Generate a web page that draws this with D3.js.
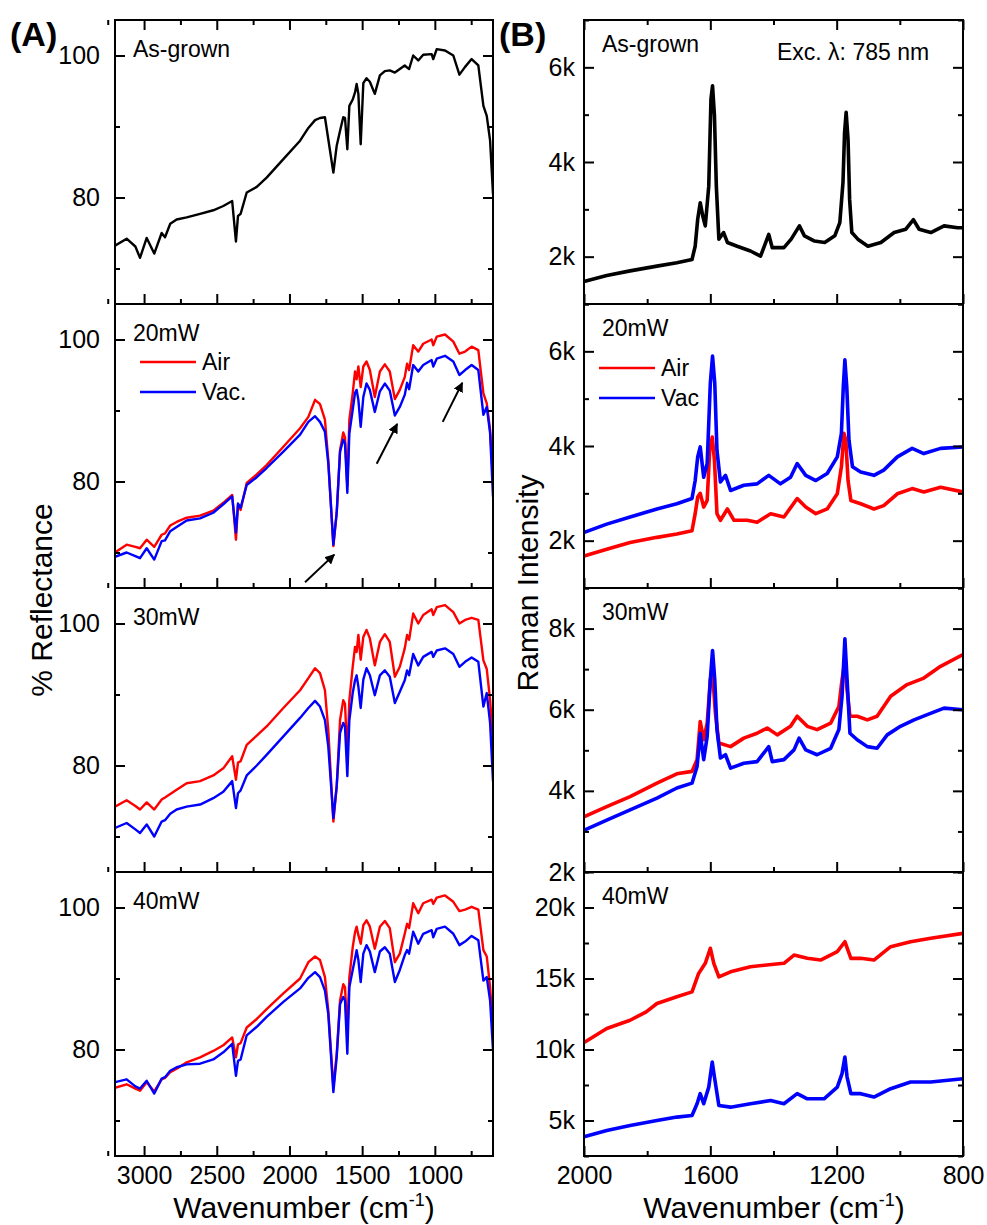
<!DOCTYPE html>
<html lang="en">
<head>
<meta charset="utf-8">
<title>Reflectance and Raman spectra</title>
<script src="https://cdn.jsdelivr.net/npm/d3@7"></script>
<style>
  body { margin: 0; background: #fff; }
  svg text { font-family: "Liberation Sans", Arial, sans-serif; fill: #000; }
  .frame { fill: none; stroke: #000; stroke-width: 2px; }
  .tick line { stroke: #000; stroke-width: 2px; }
  .domain { display: none; }
  .spec { fill: none; stroke-linejoin: round; stroke-linecap: round; }
</style>
</head>
<body>
<div id="chart"></div>
<script>
// ---- (A) reflectance, shared wavenumber grid (cm-1)
var wnA = [3200, 3120, 3060, 3028, 2982, 2930, 2879, 2856, 2820, 2776, 2707, 2615, 2524, 2455, 2394,
  2368, 2354, 2336, 2294, 2225, 2157, 2042, 1927, 1870, 1824, 1790, 1756, 1733, 1698, 1675,
  1652, 1630, 1618, 1602, 1588, 1565, 1549, 1538, 1526, 1510, 1492, 1470, 1447, 1413, 1378,
  1344, 1310, 1275, 1241, 1207, 1191, 1177, 1149, 1114, 1080, 1022, 1011, 987, 930, 873,
  831, 792, 747, 701, 666, 643, 620, 600];

var asGrown = [73.2, 74.2, 73.1, 71.5, 74.3, 72.1, 75.0, 74.4, 76.3, 76.9, 77.2, 77.7, 78.2, 78.8, 79.5,
  73.8, 77.4, 77.7, 80.7, 81.5, 82.8, 85.4, 88.0, 89.8, 90.9, 91.2, 91.3, 88.2, 83.5, 87.3,
  89.4, 91.3, 91.2, 86.8, 92.9, 93.8, 94.8, 96.0, 94.6, 87.5, 96.1, 96.8, 96.3, 94.6, 97.2,
  97.8, 97.9, 97.6, 98.1, 98.6, 98.3, 98.1, 100.0, 99.3, 100.1, 100.2, 99.5, 100.9, 100.7, 100.0,
  97.3, 98.4, 99.5, 98.6, 92.9, 91.5, 88.0, 80.5];

var air20 = [70.0, 71.1, 70.8, 70.6, 71.8, 70.8, 72.5, 72.7, 73.8, 74.3, 74.9, 75.2, 75.9, 77.0, 78.1,
  71.8, 76.7, 76.0, 79.8, 81.0, 82.3, 84.9, 87.5, 89.1, 91.5, 90.9, 88.7, 83.0, 70.9, 75.6,
  84.4, 86.9, 86.2, 79.3, 88.7, 92.4, 95.5, 94.4, 96.2, 93.3, 96.2, 96.9, 95.7, 91.9, 95.5,
  96.5, 95.5, 91.6, 92.9, 94.7, 96.6, 95.7, 99.2, 98.3, 99.4, 100.0, 99.2, 100.4, 100.7, 99.7,
  98.0, 98.3, 99.0, 98.5, 92.4, 91.0, 87.3, 80.2];
var vac20 = [69.4, 70.0, 69.5, 69.2, 70.6, 69.0, 71.6, 71.7, 73.0, 73.6, 74.5, 74.8, 75.6, 76.8, 77.9,
  72.8, 76.9, 76.3, 79.5, 80.6, 81.9, 84.2, 86.6, 88.4, 89.2, 88.4, 87.0, 82.6, 71.1, 75.6,
  84.2, 85.9, 85.4, 78.4, 86.8, 90.1, 92.5, 92.9, 91.5, 87.7, 91.9, 93.8, 92.9, 89.8, 92.7,
  93.8, 92.8, 89.3, 90.5, 92.2, 93.9, 93.0, 96.4, 95.5, 96.4, 97.1, 96.2, 97.3, 97.7, 96.9,
  95.0, 95.7, 96.4, 95.7, 89.4, 90.5, 86.8, 77.9];

var air30 = [74.2, 75.1, 74.3, 73.8, 74.8, 73.8, 75.2, 75.5, 76.0, 76.6, 77.5, 77.8, 78.6, 79.6, 81.3,
  78.0, 80.4, 80.6, 82.9, 84.2, 85.5, 88.1, 90.6, 92.3, 93.7, 93.0, 90.6, 85.0, 72.1, 77.1,
  86.4, 89.2, 88.7, 81.3, 89.2, 93.9, 96.7, 96.0, 98.4, 94.9, 98.1, 99.1, 97.9, 94.1, 97.4,
  98.5, 97.4, 92.5, 93.9, 96.5, 98.4, 97.7, 101.4, 100.0, 101.2, 102.0, 101.2, 102.3, 102.6, 101.6,
  100.0, 100.5, 100.8, 100.5, 94.8, 93.6, 89.2, 83.6];
var vac30 = [71.2, 71.9, 71.0, 70.5, 71.7, 70.0, 72.1, 72.3, 73.2, 73.8, 74.2, 74.5, 75.4, 76.3, 77.8,
  74.0, 76.1, 76.5, 78.6, 80.0, 81.5, 84.1, 86.7, 88.1, 89.1, 88.3, 86.4, 82.7, 72.6, 77.1,
  84.6, 86.0, 85.5, 78.5, 86.4, 90.2, 92.0, 92.7, 91.1, 88.1, 92.1, 93.7, 92.7, 89.9, 92.7,
  93.4, 92.5, 88.8, 90.4, 92.0, 93.4, 92.7, 95.7, 94.1, 95.3, 96.0, 95.3, 96.2, 96.5, 95.7,
  93.9, 94.6, 95.2, 94.6, 88.3, 90.2, 86.0, 77.8];

var air40 = [74.6, 75.1, 74.5, 74.2, 75.4, 74.1, 75.8, 76.0, 76.8, 77.3, 78.2, 78.9, 79.8, 80.6, 81.7,
  78.9, 80.7, 80.9, 83.1, 84.3, 85.7, 87.9, 90.0, 92.3, 93.1, 92.6, 90.2, 85.5, 74.7, 79.4,
  86.9, 89.2, 88.8, 82.2, 90.2, 94.4, 96.5, 97.3, 96.1, 94.9, 97.5, 98.2, 97.3, 94.2, 97.3,
  98.1, 97.1, 92.3, 93.5, 96.3, 97.7, 97.1, 100.6, 99.2, 100.6, 101.1, 100.5, 101.4, 101.7, 100.8,
  99.5, 99.7, 100.1, 99.7, 94.0, 93.1, 88.8, 82.7];
var vac40 = [75.4, 75.8, 74.8, 74.5, 75.6, 73.8, 75.9, 76.1, 77.0, 77.5, 77.9, 78.0, 78.6, 79.6, 80.8,
  76.3, 78.4, 78.6, 82.0, 83.2, 84.6, 86.7, 88.6, 90.1, 90.9, 90.2, 88.3, 85.0, 74.0, 79.0,
  86.4, 87.4, 86.9, 79.4, 88.8, 91.2, 92.8, 94.0, 92.6, 89.5, 93.5, 94.7, 93.8, 90.9, 93.8,
  94.4, 93.5, 89.5, 91.2, 93.3, 94.0, 93.5, 96.6, 94.9, 96.3, 96.8, 95.8, 97.0, 97.3, 96.3,
  94.7, 95.2, 96.0, 95.4, 89.7, 90.2, 86.9, 79.9];

// arrows in the 20mW panel: [wavenumber, %] tail -> head
var arrows20 = [
  {from: [1893, 65.8], to: [1692, 69.7]},
  {from: [1400, 82.5], to: [1259, 88.1]},
  {from: [946, 88.4], to: [811, 93.9]}
];

// ---- (B) Raman, 785 nm excitation
var wnB1 = [1997, 1928, 1854, 1769, 1706, 1658, 1648, 1640, 1632, 1624, 1616, 1605, 1598, 1593, 1587,
  1581, 1573, 1558, 1546, 1515, 1473, 1441, 1415, 1404, 1367, 1344, 1318, 1302, 1270, 1238,
  1206, 1190, 1180, 1175, 1170, 1164, 1159, 1152, 1133, 1101, 1060, 1018, 981, 957, 939,
  902, 860, 817, 800];
var ramanAsGrown = [1480, 1600, 1700, 1800, 1870, 1940, 2220, 2790, 3140, 2860, 2650, 3490, 5330, 5610, 4980,
  3490, 2370, 2510, 2300, 2220, 2120, 2010, 2470, 2190, 2190, 2370, 2650, 2440, 2330, 2300,
  2440, 2720, 3570, 4620, 5050, 4480, 3210, 2510, 2370, 2220, 2300, 2510, 2580, 2780, 2580,
  2510, 2650, 2610, 2610];

var wnB2air = [1997, 1928, 1854, 1769, 1706, 1658, 1648, 1640, 1632, 1621, 1610, 1602, 1594, 1587, 1579,
  1568, 1546, 1525, 1483, 1452, 1409, 1367, 1325, 1298, 1266, 1230, 1198, 1185, 1177, 1171,
  1164, 1155, 1124, 1082, 1051, 1008, 961, 924, 871, 800];
var ramanAir20 = [1680, 1820, 1960, 2070, 2140, 2210, 2570, 2920, 3000, 2710, 2850, 3910, 4190, 3700, 2570,
  2430, 2670, 2430, 2430, 2390, 2570, 2500, 2890, 2710, 2570, 2670, 2990, 3560, 4270, 4120,
  3270, 2850, 2780, 2670, 2740, 2990, 3100, 3030, 3130, 3030];
var wnB2vac = [1997, 1928, 1854, 1769, 1706, 1658, 1648, 1640, 1632, 1621, 1610, 1600, 1593, 1586, 1579,
  1568, 1552, 1536, 1494, 1452, 1415, 1378, 1346, 1325, 1298, 1266, 1230, 1198, 1185, 1179,
  1174, 1168, 1161, 1150, 1124, 1082, 1051, 1008, 961, 924, 871, 800];
var ramanVac20 = [2180, 2350, 2500, 2670, 2780, 2890, 3270, 3770, 3980, 3340, 3630, 5330, 5900, 5330, 3910,
  3240, 3380, 3060, 3170, 3200, 3380, 3200, 3340, 3630, 3380, 3270, 3420, 3770, 4270, 5250,
  5820, 5250, 4120, 3560, 3450, 3380, 3490, 3770, 3950, 3840, 3950, 3980];

var wnB3air = [1997, 1928, 1854, 1769, 1706, 1658, 1642, 1632, 1621, 1610, 1600, 1593, 1584, 1573, 1536,
  1494, 1452, 1420, 1388, 1346, 1325, 1293, 1262, 1219, 1193, 1183, 1174, 1167, 1158, 1135,
  1103, 1072, 1029, 977, 924, 871, 800];
var ramanAir30 = [3370, 3610, 3860, 4190, 4420, 4480, 4770, 5710, 5260, 5670, 6740, 6900, 5920, 5180, 5090,
  5300, 5420, 5550, 5380, 5590, 5840, 5590, 5510, 5670, 6080, 6740, 7200, 6490, 5840, 5840,
  5750, 5840, 6330, 6620, 6780, 7070, 7360];
var wnB3vac = [1997, 1928, 1854, 1769, 1706, 1658, 1642, 1632, 1621, 1610, 1600, 1593, 1586, 1579, 1568,
  1552, 1536, 1494, 1452, 1415, 1404, 1367, 1335, 1319, 1298, 1262, 1219, 1193, 1183, 1174,
  1167, 1158, 1135, 1103, 1072, 1040, 998, 955, 913, 860, 800];
var ramanVac30 = [3040, 3280, 3530, 3820, 4070, 4190, 4600, 5420, 4770, 5340, 6740, 7460, 6740, 5510, 4810,
  4890, 4560, 4680, 4720, 5090, 4720, 4770, 5010, 5300, 5010, 4890, 5050, 5510, 6330, 7750,
  6740, 5420, 5260, 5090, 5050, 5380, 5590, 5750, 5880, 6040, 6000];

var wnB4air = [1997, 1928, 1854, 1803, 1769, 1706, 1658, 1637, 1616, 1600, 1589, 1573, 1536, 1473, 1399,
  1367, 1335, 1293, 1251, 1198, 1174, 1155, 1124, 1082, 1029, 966, 902, 800];
var ramanAir40 = [10530, 11480, 12060, 12650, 13240, 13710, 14060, 15360, 16070, 17130, 16070, 15120, 15470, 15830, 16000,
  16070, 16650, 16420, 16300, 16890, 17590, 16420, 16420, 16300, 17240, 17590, 17830, 18180];
var wnB4vac = [1997, 1928, 1854, 1769, 1706, 1658, 1642, 1632, 1621, 1605, 1594, 1587, 1573, 1536, 1473,
  1409, 1367, 1325, 1293, 1240, 1198, 1183, 1174, 1167, 1155, 1124, 1082, 1029, 966, 902, 800];
var ramanVac40 = [3870, 4290, 4650, 5000, 5240, 5350, 6180, 6890, 6180, 7350, 9120, 8060, 6060, 5940, 6180,
  6410, 6180, 6890, 6530, 6530, 7350, 8300, 9470, 8060, 6890, 6890, 6650, 7240, 7710, 7710, 7940];

// ---- ticks
var ticksXA = [3000, 2500, 2000, 1500, 1000];
var minorXA = [3250, 2750, 2250, 1750, 1250, 750];
var ticksYA = [80, 100];
var minorYA = [70, 90];
var ticksXB = [2000, 1600, 1200, 800];
var minorXB = [1800, 1400, 1000];

var panelLabels = ["As-grown", "20mW", "30mW", "40mW"];

// ---- layout
var width = 987, height = 1225;
var red = "#ff0000", blue = "#0000ff";
var top0 = 20, panelH = 284;

var svg = d3.select("#chart")
    .append("svg")
    .attr("width", width)
    .attr("height", height);

svg.append("rect").attr("width", width).attr("height", height).attr("fill", "#fff");

var defs = svg.append("defs");
defs.append("marker")
    .attr("id", "head")
    .attr("viewBox", "0 0 10 10")
    .attr("refX", 9).attr("refY", 5)
    .attr("markerWidth", 5).attr("markerHeight", 5)
    .attr("markerUnits", "strokeWidth")
    .attr("orient", "auto")
  .append("path")
    .attr("d", "M0,0 L10,5 L0,10 z")
    .attr("fill", "#000");

var xA = d3.scaleLinear().domain([3200, 600]).range([115, 493]);
var xB = d3.scaleLinear().domain([2000, 800]).range([584, 963]);

var panelsA = [
  {series: [{x: wnA, y: asGrown, c: "#000"}]},
  {series: [{x: wnA, y: air20, c: red}, {x: wnA, y: vac20, c: blue}], legend: ["Air", "Vac."], arrows: arrows20},
  {series: [{x: wnA, y: air30, c: red}, {x: wnA, y: vac30, c: blue}]},
  {series: [{x: wnA, y: air40, c: red}, {x: wnA, y: vac40, c: blue}]}
];

var panelsB = [
  {domain: [1000, 7000], major: [2000, 4000, 6000], minor: [1000, 3000, 5000, 7000],
   series: [{x: wnB1, y: ramanAsGrown, c: "#000"}], note: "Exc. \u03bb: 785 nm"},
  {domain: [1000, 7000], major: [2000, 4000, 6000], minor: [1000, 3000, 5000, 7000],
   series: [{x: wnB2air, y: ramanAir20, c: red}, {x: wnB2vac, y: ramanVac20, c: blue}], legend: ["Air", "Vac"]},
  {domain: [2000, 9000], major: [2000, 4000, 6000, 8000], minor: [3000, 5000, 7000, 9000],
   series: [{x: wnB3air, y: ramanAir30, c: red}, {x: wnB3vac, y: ramanVac30, c: blue}]},
  {domain: [2500, 22500], major: [5000, 10000, 15000, 20000], minor: [2500, 7500, 12500, 17500, 22500],
   series: [{x: wnB4air, y: ramanAir40, c: red}, {x: wnB4vac, y: ramanVac40, c: blue}]}
];

function kFormat(d) { return (d / 1000) + "k"; }

function drawPanel(x, y, i, p, opt) {
  var py = top0 + i * panelH;
  var x0 = x.range()[0], x1 = x.range()[1];
  var g = svg.append("g");
  var clipId = opt.id + i;

  defs.append("clipPath").attr("id", clipId)
    .append("rect").attr("x", x0).attr("y", py).attr("width", x1 - x0).attr("height", panelH);

  var plot = g.append("g").attr("clip-path", "url(#" + clipId + ")");
  p.series.forEach(function(s) {
    var line = d3.line()
        .x(function(d, j) { return x(s.x[j]); })
        .y(function(d) { return y(d); });
    plot.append("path")
        .datum(s.y)
        .attr("class", "spec")
        .attr("stroke", s.c)
        .attr("stroke-width", opt.lw)
        .attr("d", line);
  });

  // x ticks: bottom of every panel, top of the first one
  var last = i === 3;
  var bx = g.append("g").attr("transform", "translate(0," + (py + panelH) + ")")
      .call(d3.axisBottom(x).tickValues(opt.xMajor).tickSizeInner(-10).tickSizeOuter(0)
        .tickPadding(10).tickFormat(last ? d3.format("d") : ""));
  g.append("g").attr("transform", "translate(0," + (py + panelH) + ")")
      .call(d3.axisBottom(x).tickValues(opt.xMinor).tickSizeInner(-5).tickSizeOuter(0).tickFormat(""));
  bx.attr("font-size", 25);
  if (i === 0) {
    g.append("g").attr("transform", "translate(0," + py + ")")
        .call(d3.axisTop(x).tickValues(opt.xMajor).tickSizeInner(-10).tickSizeOuter(0).tickFormat(""));
    g.append("g").attr("transform", "translate(0," + py + ")")
        .call(d3.axisTop(x).tickValues(opt.xMinor).tickSizeInner(-5).tickSizeOuter(0).tickFormat(""));
  }

  // y ticks both sides
  g.append("g").attr("transform", "translate(" + x0 + ",0)")
      .call(d3.axisLeft(y).tickValues(opt.yMajor).tickSizeInner(-10).tickSizeOuter(0)
        .tickPadding(opt.yPad).tickFormat(opt.yFmt))
      .attr("font-size", 25);
  g.append("g").attr("transform", "translate(" + x0 + ",0)")
      .call(d3.axisLeft(y).tickValues(opt.yMinor).tickSizeInner(-5).tickSizeOuter(0).tickFormat(""));
  g.append("g").attr("transform", "translate(" + x1 + ",0)")
      .call(d3.axisRight(y).tickValues(opt.yMajor).tickSizeInner(-10).tickSizeOuter(0).tickFormat(""));
  g.append("g").attr("transform", "translate(" + x1 + ",0)")
      .call(d3.axisRight(y).tickValues(opt.yMinor).tickSizeInner(-5).tickSizeOuter(0).tickFormat(""));

  g.append("rect").attr("class", "frame")
      .attr("x", x0).attr("y", py).attr("width", x1 - x0).attr("height", panelH);

  g.append("text")
      .attr("x", x0 + 18).attr("y", py + opt.labelDy)
      .attr("font-size", 23)
      .text(panelLabels[i]);

  if (p.note) {
    g.append("text").attr("x", x0 + 193).attr("y", py + 40).attr("font-size", 23).text(p.note);
  }

  if (p.legend) {
    p.legend.forEach(function(name, k) {
      var ly = py + opt.legY + k * 30;
      g.append("line")
          .attr("x1", x0 + opt.legX).attr("x2", x0 + opt.legX + 56)
          .attr("y1", ly).attr("y2", ly)
          .attr("stroke", p.series[k].c).attr("stroke-width", 2.5);
      g.append("text")
          .attr("x", x0 + opt.legX + 62).attr("y", ly + 8)
          .attr("font-size", 23)
          .text(name);
    });
  }

  if (p.arrows) {
    p.arrows.forEach(function(a) {
      g.append("line")
          .attr("x1", x(a.from[0])).attr("y1", y(a.from[1]))
          .attr("x2", x(a.to[0])).attr("y2", y(a.to[1]))
          .attr("stroke", "#000").attr("stroke-width", 2)
          .attr("marker-end", "url(#head)");
    });
  }
}

panelsA.forEach(function(p, i) {
  var py = top0 + i * panelH;
  var y = d3.scaleLinear().domain([65, 105]).range([py + panelH, py]);
  drawPanel(xA, y, i, p, {
    id: "clipA", lw: 2.4, xMajor: ticksXA, xMinor: minorXA,
    yMajor: ticksYA, yMinor: minorYA, yPad: 15, yFmt: d3.format("d"),
    labelDy: 37, legX: 25, legY: 58
  });
});

panelsB.forEach(function(p, i) {
  var py = top0 + i * panelH;
  var y = d3.scaleLinear().domain(p.domain).range([py + panelH, py]);
  drawPanel(xB, y, i, p, {
    id: "clipB", lw: 3.6, xMajor: ticksXB, xMinor: minorXB,
    yMajor: p.major, yMinor: p.minor, yPad: 9, yFmt: kFormat,
    labelDy: 32, legX: 15, legY: 64
  });
});

// panel letters
svg.append("text").attr("x", 10).attr("y", 46).attr("font-size", 34).attr("font-weight", "bold").text("(A)");
svg.append("text").attr("x", 499).attr("y", 46).attr("font-size", 34).attr("font-weight", "bold").text("(B)");

// axis titles
svg.append("text")
    .attr("transform", "translate(52,600) rotate(-90)")
    .attr("text-anchor", "middle")
    .attr("font-size", 30)
    .text("% Reflectance");
svg.append("text")
    .attr("transform", "translate(538,583) rotate(-90)")
    .attr("text-anchor", "middle")
    .attr("font-size", 30)
    .text("Raman Intensity");

[[304, "Wavenumber (cm"], [774, "Wavenumber (cm"]].forEach(function(t) {
  var txt = svg.append("text")
      .attr("x", t[0]).attr("y", 1218)
      .attr("text-anchor", "middle")
      .attr("font-size", 30);
  txt.append("tspan").text(t[1]);
  txt.append("tspan").attr("font-size", 18).attr("dy", -12).text("-1");
  txt.append("tspan").attr("dy", 12).text(")");
});
</script>
</body>
</html>
